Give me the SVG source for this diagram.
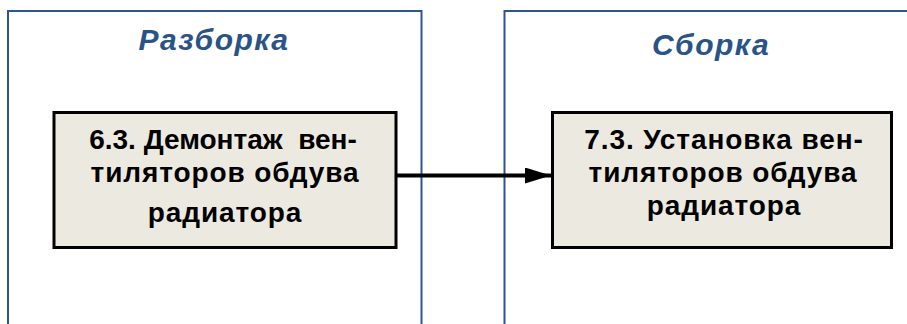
<svg xmlns="http://www.w3.org/2000/svg" width="907" height="324" viewBox="0 0 907 324">
<style>
.panel{fill:none;stroke:#2F5590;stroke-width:2}
.title{font-family:"Liberation Sans",Arial,sans-serif;font-weight:bold;font-style:italic;font-size:30px;letter-spacing:1.5px;fill:#2A5387;text-anchor:middle}
.box{fill:#ECEAE0;stroke:#000;stroke-width:3}
.lbl{font-family:"Liberation Sans",Arial,sans-serif;font-weight:bold;font-size:28px;letter-spacing:0.9px;fill:#000;text-anchor:middle;white-space:pre}
.tight{letter-spacing:0}
.conn{stroke:#000;stroke-width:4;fill:none}
</style>
<defs>
<marker id="ah" markerUnits="userSpaceOnUse" markerWidth="26" markerHeight="16" refX="26" refY="8" orient="auto">
<path d="M0,0 L26,8 L0,16 Z" fill="#000"/>
</marker>
</defs>
<rect width="907" height="324" fill="#fff"/>
<g id="panel-razborka">
<path class="panel" d="M8,330 V11 H421.5 V330"/>
<text class="title" x="214" y="50">Разборка</text>
</g>
<g id="panel-sborka">
<path class="panel" d="M504.5,330 V11 H920"/>
<text class="title" x="711" y="55">Сборка</text>
</g>
<g id="node-6-3">
<rect class="box" x="54" y="112.5" width="342" height="135"/>
<text class="lbl tight" x="223" y="149">6.3. Демонтаж  вен-</text>
<text class="lbl" x="225" y="182">тиляторов обдува</text>
<text class="lbl" x="225" y="222">радиатора</text>
</g>
<g id="node-7-3">
<rect class="box" x="552.5" y="112.5" width="339" height="135"/>
<text class="lbl" x="724" y="149">7.3. Установка вен-</text>
<text class="lbl" x="723" y="182">тиляторов обдува</text>
<text class="lbl" x="724" y="215">радиатора</text>
</g>
<g id="connectors">
<line class="conn" x1="397" y1="175.5" x2="551" y2="175.5" marker-end="url(#ah)"/>
</g>
</svg>
